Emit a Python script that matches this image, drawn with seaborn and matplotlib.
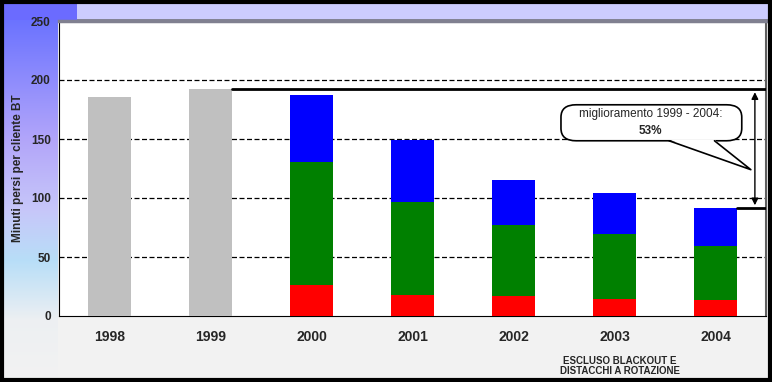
import numpy as np
import matplotlib
matplotlib.use("Agg")
import matplotlib.pyplot as plt
from matplotlib.patches import FancyBboxPatch, Polygon
import seaborn as sns

# chart data (minutes lost per LV customer)
years = ['1998', '1999', '2000', '2001', '2002', '2003', '2004']
gray_tot = [186, 192, np.nan, np.nan, np.nan, np.nan, np.nan]
red = [np.nan, np.nan, 26, 18, 17, 14.5, 13.5]
green = [np.nan, np.nan, 104.5, 79, 60, 55, 45.5]
blue = [np.nan, np.nan, 56.5, 52, 38, 34.5, 32.5]
y_ticks = [0, 50, 100, 150, 200, 250]
note_text = "ESCLUSO BLACKOUT E\nDISTACCHI A ROTAZIONE"
callout_line1 = "miglioramento 1999 - 2004:"
callout_line2 = "53%"

sns.set_style("white")
plt.rcParams['font.family'] = ['Liberation Sans', 'DejaVu Sans']

W, H = 772, 382
fig = plt.figure(figsize=(W / 100, H / 100), dpi=100)

# background: light panel, lavender top band, gradient left strip
bg = np.ones((H, W, 3)) * np.array([0.95, 0.95, 0.95])
bg[:20, :] = np.array([0.80, 0.80, 1.0])
bg[:20, :77] = np.array([0.42, 0.42, 1.0])
bg[19:22, 77:] = np.array([0.52, 0.52, 0.60])
stops_y = [20, 140, 210, 260, 320, H]
stops_c = np.array([[0.42, 0.45, 1.0], [0.70, 0.65, 0.98], [0.78, 0.78, 0.98],
                    [0.72, 0.87, 0.97], [0.93, 0.94, 0.95], [0.95, 0.95, 0.95]])
rows = np.arange(20, H)
for k in range(3):
    col = np.interp(rows, stops_y, stops_c[:, k])
    bg[20:, :58, k] = col[:, None]
bax = fig.add_axes([0, 0, 1, 1], zorder=-5)
bax.imshow(bg, aspect='auto', extent=(0, W, H, 0))
bax.set_xlim(0, W)
bax.set_ylim(H, 0)
bax.axis('off')
fig.patches.append(plt.Rectangle((0.002, 0.004), 0.996, 0.992, transform=fig.transFigure,
                                 fill=False, edgecolor='black', linewidth=3, zorder=10))

ax = fig.add_axes([59 / W, (H - 316) / H, 707 / W, 295 / H])
ax.set_facecolor('white')

cum_green = [r + g for r, g in zip(red, green)]
cum_blue = [r + g + b for r, g, b in zip(red, green, blue)]
bw = 0.42
for vals, c in [(gray_tot, '#c0c0c0'), (cum_blue, '#0000ff'), (cum_green, '#008000'), (red, '#ff0000')]:
    sns.barplot(x=years, y=vals, color=c, saturation=1, width=bw, ax=ax, zorder=3, linewidth=0)

ax.set_xlim(-0.5, 6.5)
ax.set_ylim(0, 250)
ax.set_yticks(y_ticks)
for v in y_ticks[1:-1]:
    ax.axhline(v, color='black', linestyle=(0, (4, 2)), linewidth=0.9, zorder=1)

ax.set_xticks(range(len(years)))
ax.set_xticklabels(years, fontsize=10, fontweight='bold')
ax.set_xticks(np.arange(-0.5, 6.6, 1), minor=True)
ax.tick_params(axis='x', which='major', length=0, pad=10)
ax.tick_params(axis='x', which='minor', length=4, direction='out', width=0.8)
ax.tick_params(axis='y', length=4, direction='out', width=0.8, labelsize=8.5, pad=2)
for lab in ax.get_yticklabels():
    lab.set_fontweight('bold')
ax.set_xlabel('')
ax.set_ylabel('Minuti persi per cliente BT', fontsize=8.5, fontweight='bold')
ax.yaxis.set_label_coords(-(59 - 24) / 707, 0.5)

ax.spines['left'].set_color('black')
ax.spines['bottom'].set_color('black')
ax.spines['top'].set_color('#808090')
ax.spines['top'].set_linewidth(2.5)
ax.spines['right'].set_color('#606060')
ax.spines['right'].set_linewidth(1.5)

# reference lines and improvement arrow
top_val = gray_tot[1]
low_val = cum_blue[6]
ax.plot([1 + bw / 2, 6.5], [top_val, top_val], color='black', linewidth=2, zorder=4)
ax.plot([6 + bw / 2, 6.5], [low_val, low_val], color='black', linewidth=2, zorder=4)
ax.annotate('', xy=(6.39, top_val), xytext=(6.39, low_val),
            arrowprops=dict(arrowstyle='<|-|>', color='black', lw=1, mutation_scale=10), zorder=5)

# callout balloon
box = FancyBboxPatch((4.47, 148.5), 1.79, 30.5, boxstyle='round,pad=0,rounding_size=0.15',
                     mutation_aspect=70, facecolor='white', edgecolor='black', linewidth=1.2, zorder=6)
ax.add_patch(box)
tail_x = [5.54, 6.35, 5.99]
tail_y = [149.5, 124, 149.5]
ax.add_patch(Polygon(list(zip(tail_x, tail_y)), closed=True, facecolor='white', edgecolor='none', zorder=7))
ax.plot([tail_x[0], tail_x[1], tail_x[2]], [148.5, tail_y[1], 148.5], color='black', linewidth=1.2, zorder=7)
ax.text(5.36, 171, callout_line1, ha='center', va='center', fontsize=8.5, zorder=8)
ax.text(5.36, 157, callout_line2, ha='center', va='center', fontsize=8.5, fontweight='bold', zorder=8)

fig.text(620 / W, 1 - 366 / H, note_text, ha='center', va='center', fontsize=7,
         fontweight='bold', linespacing=1.1)

fig.savefig('out.png', dpi=100)
